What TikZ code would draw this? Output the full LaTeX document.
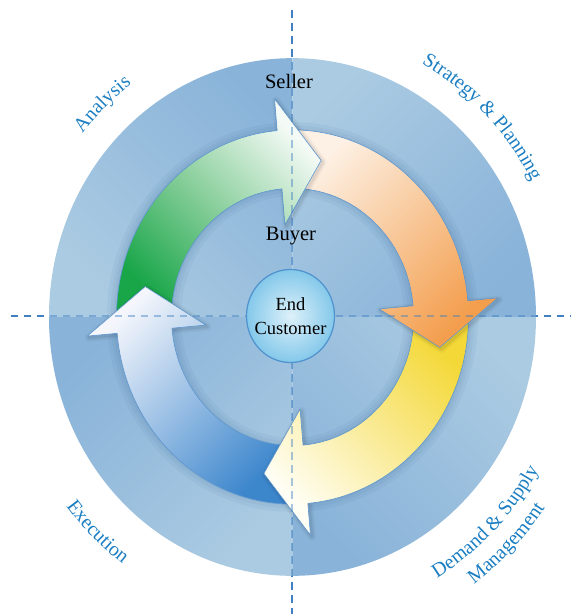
\documentclass[tikz,border=0pt]{standalone}
\usepackage{fontspec}
\setmainfont{Liberation Serif}
\usetikzlibrary{decorations.text,shapes.geometric}

% disc and axes
\definecolor{discLight}{HTML}{ABCBE2}
\definecolor{discDark}{HTML}{89B3D9}
\definecolor{discShadow}{HTML}{1F4E80}
\definecolor{axisBlue}{HTML}{3F7FC2}
\definecolor{labelBlue}{HTML}{1B7EC2}
\definecolor{edgeBlue}{HTML}{5D96CF}
% cycle arrows
\definecolor{greenDark}{HTML}{19A649}
\definecolor{greenMid}{HTML}{8ACF9C}
\definecolor{greenLight}{HTML}{F4FAF5}
\definecolor{orangeLight}{HTML}{FDF1E5}
\definecolor{orangeDark}{HTML}{F39E4D}
\definecolor{yellowDark}{HTML}{F4D837}
\definecolor{yellowLight}{HTML}{FFFEF5}
\definecolor{blueLight}{HTML}{F4F6FC}
\definecolor{blueDark}{HTML}{3C86CC}
% centre badge
\definecolor{custInner}{HTML}{DDF1FA}
\definecolor{custOuter}{HTML}{84C8EA}
\definecolor{custEdge}{HTML}{4E92CE}

\newcommand\ringfont{\fontsize{20}{24}\selectfont}

\begin{document}
\begin{tikzpicture}[x=1pt,y=1pt,
  axisline/.style={draw=axisBlue, line width=1.8pt, dash pattern=on 7.5pt off 5.5pt},
  arrowedge/.style={draw=edgeBlue, line width=0.6pt, line join=round},
  arrowpath/.style 2 args={insert path={(#1:176pt) arc[start angle=#1, end angle=#2, radius=176pt]
      -- (#2:206pt) -- ({#2-16}:150pt) -- (#2:87pt) -- (#2:121pt)
      arc[start angle=#2, end angle=#1, radius=121pt] -- cycle}},
  headpath/.style={insert path={(#1:206pt) -- ({#1-16}:150pt) -- (#1:87pt) -- cycle}},
  headshadow/.style={draw=black, line join=round, shift={(1.5pt,-1.5pt)}},
  greenarrow/.style={arrowedge, top color=greenLight, bottom color=greenDark, middle color=greenMid, shading angle=-45},
  orangearrow/.style={arrowedge, top color=orangeLight, bottom color=orangeDark, shading angle=45},
  yellowarrow/.style={arrowedge, top color=yellowDark, bottom color=yellowLight, shading angle=-45},
  bluearrow/.style={arrowedge, top color=blueLight, bottom color=blueDark, shading angle=45},
  ringlabel/.style={decorate, decoration={text along path, text align=center,
      text color=labelBlue, text={|\ringfont|#1}}},
  centretext/.style={font=\fontsize{20.5}{24}\selectfont, anchor=base},
]
\useasboundingbox (-292.5,-297) rectangle (278.5,317);

% axes
\coordinate (vtop) at (-0.5,307);
\coordinate (vbot) at (-0.5,-297);
\coordinate (hleft) at (-281.5,1);
\coordinate (hright) at (278.5,1);
\draw[axisline] (vtop) -- (vbot);
\draw[axisline] (hleft) -- (hright);

\begin{scope}[yscale=1.063]
  % four shaded quadrants of the disc
  \shade[top color=discDark, bottom color=discLight, shading angle=-45]
    (0,0) -- (180:243.5pt) arc[start angle=180, end angle=90, radius=243.5pt] -- cycle;
  \shade[top color=discLight, bottom color=discDark, shading angle=45]
    (0,0) -- (90:243.5pt) arc[start angle=90, end angle=0, radius=243.5pt] -- cycle;
  \shade[top color=discLight, bottom color=discDark, shading angle=-45]
    (0,0) -- (0:243.5pt) arc[start angle=0, end angle=-90, radius=243.5pt] -- cycle;
  \shade[top color=discDark, bottom color=discLight, shading angle=45]
    (0,0) -- (-90:243.5pt) arc[start angle=-90, end angle=-180, radius=243.5pt] -- cycle;

  % soft halo under the ring
  \foreach \w in {74,67,61}
    \draw[line width=\w pt, draw=discShadow, opacity=0.05] (0,0) circle[radius=148.5pt];

  % Analysis arrow
  \shadedraw[greenarrow, arrowpath={181}{95}];
  % Execution arrow
  \foreach \w/\op in {8/0.03,5/0.04,2.5/0.05}
    \draw[headshadow, line width=\w pt, opacity=\op, headpath=-175];
  \shadedraw[bluearrow, arrowpath={-89}{-175}];
  % Demand & Supply arrow
  \foreach \w/\op in {8/0.03,5/0.04,2.5/0.05}
    \draw[headshadow, line width=\w pt, opacity=\op, headpath=-85];
  \shadedraw[yellowarrow, arrowpath={1}{-85}];
  % Strategy & Planning arrow
  \foreach \w/\op in {8/0.03,5/0.04,2.5/0.05}
    \draw[headshadow, line width=\w pt, opacity=\op, headpath=5];
  \shadedraw[orangearrow, arrowpath={91}{5}];
  % Analysis arrow head again, so that it lies over the orange tail
  \foreach \w/\op in {8/0.03,5/0.04,2.5/0.05}
    \draw[headshadow, line width=\w pt, opacity=\op, headpath=95];
  \begin{scope}
    \clip (0,0) -- (68:240pt) arc[start angle=68, end angle=100, radius=240pt] -- cycle;
    \shadedraw[greenarrow, arrowpath={181}{95}];
  \end{scope}
\end{scope}

% axes seen through the disc
\draw[axisline, opacity=0.45] (vtop) -- (vbot);
\draw[axisline, opacity=0.45] (hleft) -- (hright);

% centre badge
\node[ellipse, minimum width=88pt, minimum height=93pt, inner sep=0pt,
      draw=custEdge, line width=1.2pt, inner color=custInner, outer color=custOuter] (cust) at (-2,1) {};
\node[align=center, font=\fontsize{18.5}{24}\selectfont, inner sep=0pt] (custtext) at (cust.center) {End\\Customer};

\node[centretext] (seller) at (-3.5,229) {Seller};
\node[centretext] (buyer) at (-1.5,77) {Buyer};

% quadrant captions along the rim
\begin{scope}[yscale=1.063]
  \path[ringlabel={Analysis}] (163:272pt) arc[start angle=163, end angle=103, radius=272pt];
  \path[ringlabel={Strategy {\&} Planning}] (85.4:271pt) arc[start angle=85.4, end angle=5.4, radius=271pt];
  \path[ringlabel={Execution}] (186.7:288pt) arc[start angle=186.7, end angle=266.7, radius=288pt];
  \path[ringlabel={Demand {\&} Supply}] (-85.5:285pt) arc[start angle=-85.5, end angle=-5.5, radius=285pt];
  \path[ringlabel={Management}] (-85.5:310pt) arc[start angle=-85.5, end angle=-5.5, radius=310pt];
\end{scope}
\end{tikzpicture}
\end{document}
